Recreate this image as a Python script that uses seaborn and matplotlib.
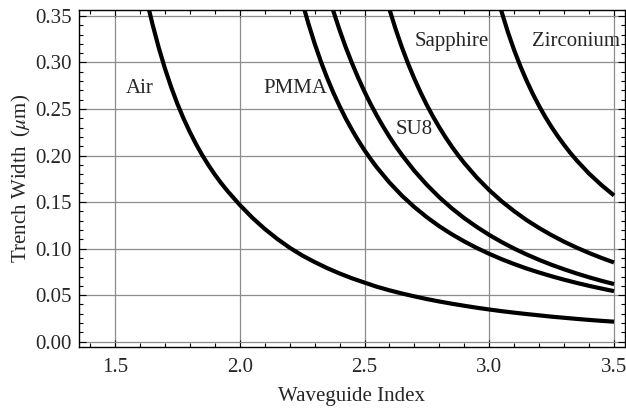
import numpy as np
import pandas as pd
import matplotlib
matplotlib.use("Agg")
import matplotlib.pyplot as plt
import seaborn as sns
from matplotlib.ticker import MultipleLocator, FormatStrFormatter

# curves (waveguide index, trench width in um)
air_n = [1.635, 1.65, 1.675, 1.70, 1.725, 1.75, 1.775, 1.80, 1.825, 1.85, 1.875, 1.90, 1.925,
         1.95, 2.00, 2.05, 2.10, 2.15, 2.20, 2.25, 2.30, 2.35, 2.40, 2.45, 2.50, 2.55, 2.60,
         2.65, 2.70, 2.75, 2.80, 2.85, 2.90, 2.95, 3.00, 3.05, 3.10, 3.15, 3.20, 3.25, 3.30,
         3.35, 3.40, 3.45, 3.50]
air_w = [0.3581, 0.3414, 0.3162, 0.2937, 0.2736, 0.2556, 0.2396, 0.2253, 0.2122, 0.2003, 0.1895,
         0.1796, 0.1705, 0.1622, 0.1470, 0.1333, 0.1212, 0.1105, 0.1010, 0.0927, 0.0856, 0.0791,
         0.0733, 0.0681, 0.0635, 0.0590, 0.0552, 0.0518, 0.0487, 0.0458, 0.0432, 0.0408, 0.0386,
         0.0365, 0.0346, 0.0328, 0.0312, 0.0297, 0.0283, 0.0269, 0.0257, 0.0245, 0.0234, 0.0224,
         0.0215]

pmma_n = [2.258, 2.275, 2.30, 2.325, 2.35, 2.375, 2.40, 2.425, 2.45, 2.475, 2.50, 2.525, 2.55,
          2.60, 2.65, 2.70, 2.75, 2.80, 2.85, 2.90, 2.95, 3.00, 3.05, 3.10, 3.15, 3.20, 3.25,
          3.30, 3.35, 3.40, 3.45, 3.50]
pmma_w = [0.3578, 0.3419, 0.3205, 0.3011, 0.2836, 0.2676, 0.2531, 0.2397, 0.2275, 0.2162, 0.2057,
          0.1961, 0.1871, 0.1710, 0.1569, 0.1446, 0.1337, 0.1240, 0.1154, 0.1077, 0.1007, 0.0944,
          0.0886, 0.0834, 0.0786, 0.0743, 0.0703, 0.0666, 0.0632, 0.0600, 0.0571, 0.0543]

su8_n = [2.372, 2.375, 2.40, 2.425, 2.45, 2.475, 2.50, 2.525, 2.55, 2.575, 2.60, 2.625, 2.65,
         2.70, 2.75, 2.80, 2.85, 2.90, 2.95, 3.00, 3.05, 3.10, 3.15, 3.20, 3.25, 3.30, 3.35,
         3.40, 3.45, 3.50]
su8_w = [0.3579, 0.3553, 0.3349, 0.3162, 0.2991, 0.2833, 0.2686, 0.2551, 0.2426, 0.2310, 0.2201,
         0.2100, 0.2006, 0.1835, 0.1685, 0.1551, 0.1433, 0.1327, 0.1233, 0.1147, 0.1070, 0.1000,
         0.0937, 0.0879, 0.0826, 0.0778, 0.0733, 0.0692, 0.0654, 0.0619]

sapphire_n = [2.599, 2.60, 2.625, 2.65, 2.675, 2.70, 2.725, 2.75, 2.775, 2.80, 2.825, 2.85,
              2.875, 2.90, 2.95, 3.00, 3.05, 3.10, 3.15, 3.20, 3.25, 3.30, 3.35, 3.40, 3.45,
              3.50]
sapphire_w = [0.3580, 0.3571, 0.3356, 0.3162, 0.2985, 0.2824, 0.2677, 0.2541, 0.2417, 0.2302,
              0.2195, 0.2096, 0.2004, 0.1919, 0.1764, 0.1628, 0.1508, 0.1402, 0.1306, 0.1221,
              0.1144, 0.1074, 0.1011, 0.0953, 0.0900, 0.0851]

zirc_n = [3.046, 3.05, 3.075, 3.10, 3.125, 3.15, 3.175, 3.20, 3.225, 3.25, 3.275, 3.30, 3.325,
          3.35, 3.40, 3.45, 3.50]
zirc_w = [0.3577, 0.3540, 0.3324, 0.3131, 0.2958, 0.2802, 0.2660, 0.2531, 0.2413, 0.2305, 0.2206,
          0.2114, 0.2028, 0.1949, 0.1806, 0.1682, 0.1571]

labels = ["Air", "PMMA", "SU8", "Sapphire", "Zirconium"]
label_x = [1.600, 2.222, 2.700, 2.849, 3.346]
label_y = [0.267, 0.267, 0.2227, 0.318, 0.318]

curves = [(air_n, air_w), (pmma_n, pmma_w), (su8_n, su8_w),
          (sapphire_n, sapphire_w), (zirc_n, zirc_w)]

sns.set_style("ticks")
plt.rcParams['font.family'] = ['Liberation Serif', 'DejaVu Serif']
plt.rcParams['mathtext.fontset'] = 'stix'
plt.rcParams['font.size'] = 15

fig = plt.figure(figsize=(6.26, 4.11), dpi=100)
ax = fig.add_axes([79 / 626, 1 - 347 / 411, 546 / 626, 337 / 411])

for (n, w), name in zip(curves, labels):
    df = pd.DataFrame({"index": n, "width": w})
    sns.lineplot(data=df, x="index", y="width", ax=ax, color="black", lw=3.0,
                 sort=False, estimator=None, solid_capstyle="butt",
                 solid_joinstyle="round", zorder=3)

for name, tx, ty in zip(labels, label_x, label_y):
    ax.text(tx, ty, name, ha="center", va="baseline", fontsize=15, zorder=4)

ax.set_xlim(1.3557, 3.544)
ax.set_ylim(-0.0057, 0.3564)
ax.xaxis.set_major_locator(MultipleLocator(0.5))
ax.xaxis.set_minor_locator(MultipleLocator(0.1))
ax.yaxis.set_major_locator(MultipleLocator(0.05))
ax.yaxis.set_minor_locator(MultipleLocator(0.01))
ax.xaxis.set_major_formatter(FormatStrFormatter('%.1f'))
ax.yaxis.set_major_formatter(FormatStrFormatter('%.2f'))

ax.grid(True, which="major", color="#8c8c8c", lw=0.9, zorder=0)
ax.tick_params(which="both", direction="in", top=True, right=True, color="black",
               width=0.8, labelsize=15)
ax.tick_params(which="major", length=5)
ax.tick_params(which="minor", length=3)
ax.tick_params(axis="x", which="major", pad=8)
ax.tick_params(axis="y", which="major", pad=5)
for sp in ax.spines.values():
    sp.set_color("black")
    sp.set_linewidth(1.0)

ax.set_xlabel("Waveguide Index", fontsize=15)
ax.set_ylabel(r"Trench Width  ($\mu$m)", fontsize=15)
ax.xaxis.set_label_coords(0.5, -0.12)
ax.yaxis.set_label_coords(-0.085, 0.5)

fig.savefig("out.png", dpi=100)
